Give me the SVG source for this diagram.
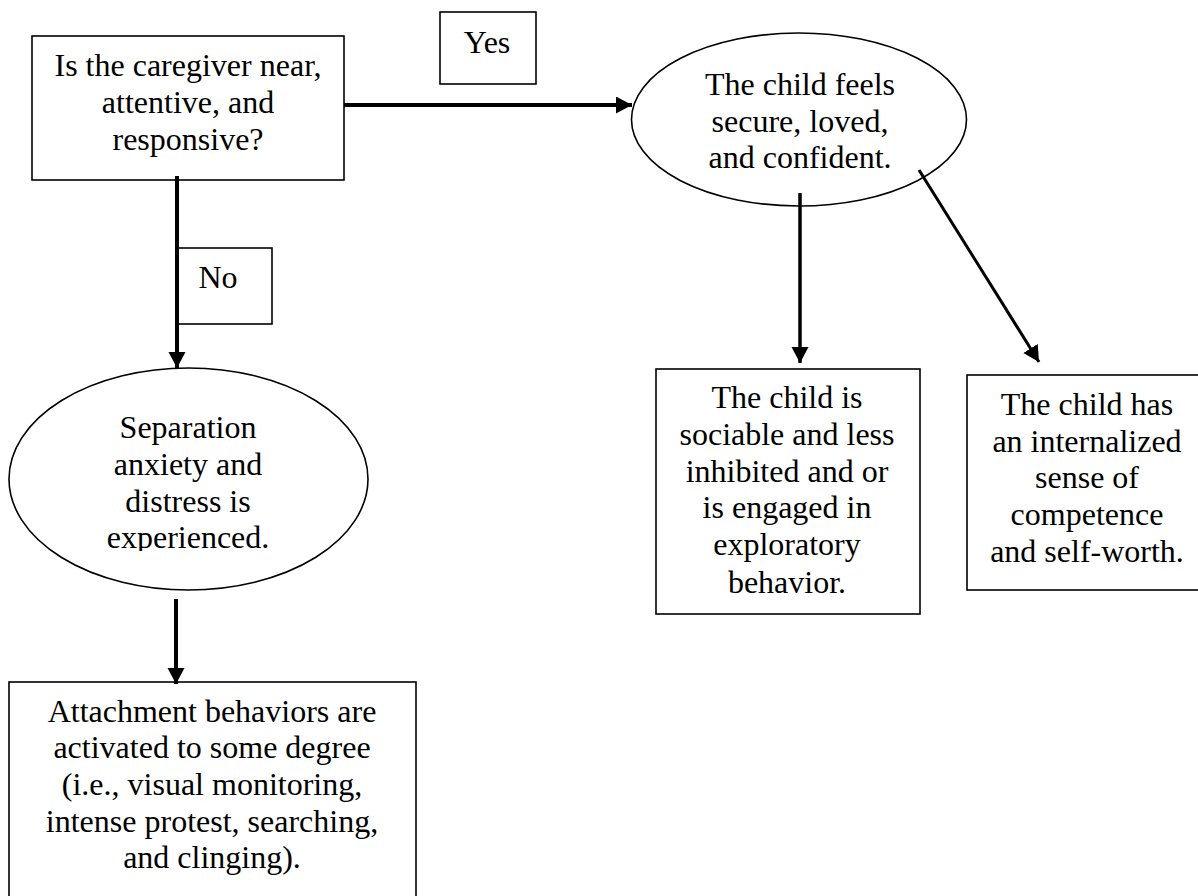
<svg xmlns="http://www.w3.org/2000/svg" width="1198" height="896" viewBox="0 0 1198 896">
  <style>
    .box { fill: #ffffff; stroke: #000000; stroke-width: 1.6; }
    .lbl { font-family: "Liberation Serif", "Times New Roman", serif; font-size: 32px; fill: #000000; text-anchor: middle; }
    .wire { stroke: #000000; fill: none; }
  </style>
  <defs>
    <marker id="head" markerUnits="userSpaceOnUse" markerWidth="18" markerHeight="18" refX="16" refY="8.5" orient="auto">
      <path d="M0,0 L16,8.5 L0,17 z" fill="#000000"/>
    </marker>
    <clipPath id="clipSep">
      <rect x="0" y="360" width="400" height="191"/>
    </clipPath>
  </defs>
  <rect width="1198" height="896" fill="#ffffff"/>

  <!-- decision box -->
  <g id="question">
    <rect class="box" x="32" y="36" width="312" height="144"/>
    <text class="lbl"><tspan x="188" y="76">Is the caregiver near,</tspan><tspan x="188" y="113">attentive, and</tspan><tspan x="188" y="150">responsive?</tspan></text>
  </g>

  <!-- branch labels -->
  <g id="yes-label">
    <rect class="box" x="440" y="12" width="96" height="72"/>
    <text class="lbl" x="487" y="53">Yes</text>
  </g>
  <g id="no-label">
    <rect class="box" x="177" y="248" width="95" height="76"/>
    <text class="lbl" x="218" y="288">No</text>
  </g>

  <!-- outcome: secure -->
  <g id="secure">
    <ellipse class="box" cx="799" cy="119.5" rx="167.5" ry="86.5"/>
    <text class="lbl"><tspan x="800" y="95">The child feels</tspan><tspan x="800" y="132">secure, loved,</tspan><tspan x="800" y="168">and confident.</tspan></text>
  </g>

  <!-- outcome: separation -->
  <g id="separation">
    <ellipse class="box" cx="188.5" cy="479" rx="179.5" ry="111"/>
    <text class="lbl" clip-path="url(#clipSep)"><tspan x="188" y="438">Separation</tspan><tspan x="188" y="475">anxiety and</tspan><tspan x="188" y="512">distress is</tspan><tspan x="188" y="548">experienced.</tspan></text>
  </g>

  <g id="sociable">
    <rect class="box" x="656" y="369" width="264" height="245"/>
    <text class="lbl"><tspan x="787" y="408">The child is</tspan><tspan x="787" y="445">sociable and less</tspan><tspan x="787" y="482">inhibited and or</tspan><tspan x="787" y="518">is engaged in</tspan><tspan x="787" y="555">exploratory</tspan><tspan x="787" y="593">behavior.</tspan></text>
  </g>

  <g id="competence">
    <rect class="box" x="967" y="375" width="240" height="215"/>
    <text class="lbl"><tspan x="1087" y="415">The child has</tspan><tspan x="1087" y="452">an internalized</tspan><tspan x="1087" y="488">sense of</tspan><tspan x="1087" y="525">competence</tspan><tspan x="1087" y="562">and self-worth.</tspan></text>
  </g>

  <g id="attachment">
    <rect class="box" x="9" y="682" width="407" height="230"/>
    <text class="lbl"><tspan x="212" y="722">Attachment behaviors are</tspan><tspan x="212" y="758">activated to some degree</tspan><tspan x="212" y="795">(i.e., visual monitoring,</tspan><tspan x="212" y="832">intense protest, searching,</tspan><tspan x="212" y="868">and clinging).</tspan></text>
  </g>

  <!-- connectors -->
  <g id="connectors">
    <line class="wire" x1="344" y1="105" x2="632" y2="105" stroke-width="4" marker-end="url(#head)"/>
    <line class="wire" x1="177" y1="176" x2="177" y2="368" stroke-width="4" marker-end="url(#head)"/>
    <line class="wire" x1="800" y1="193" x2="800" y2="363" stroke-width="3.5" marker-end="url(#head)"/>
    <line class="wire" x1="919" y1="170" x2="1039" y2="362" stroke-width="3" marker-end="url(#head)"/>
    <line class="wire" x1="176" y1="599" x2="176" y2="684" stroke-width="4" marker-end="url(#head)"/>
  </g>
</svg>
